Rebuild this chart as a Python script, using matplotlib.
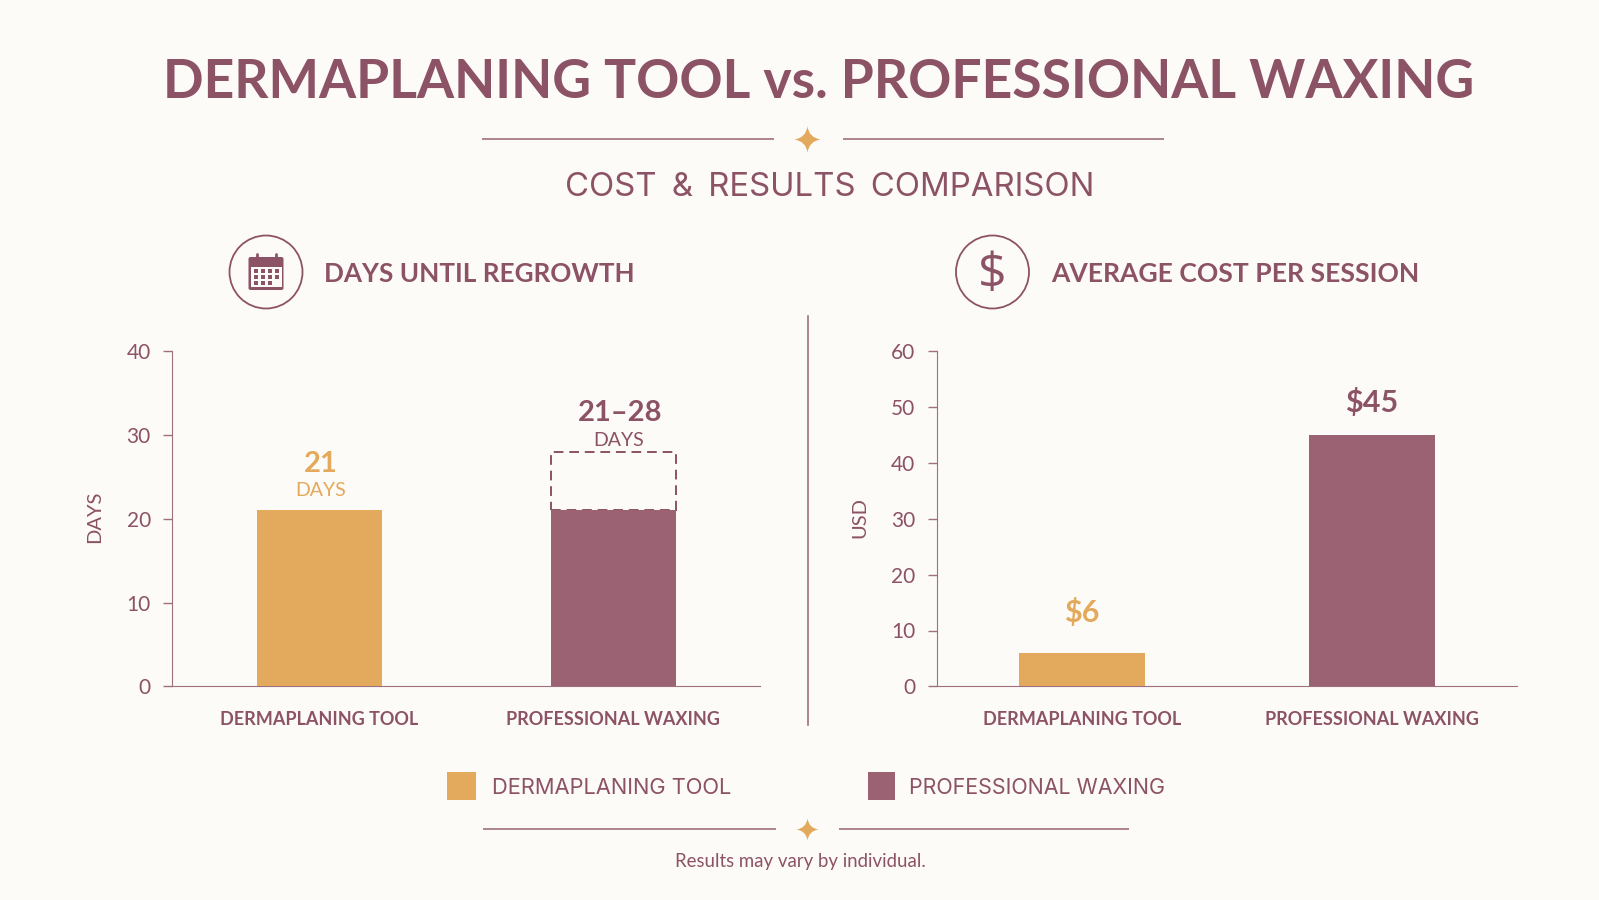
import matplotlib
matplotlib.use('Agg')
import matplotlib.pyplot as plt
from matplotlib.patches import Circle, FancyBboxPatch, Rectangle
from matplotlib.path import Path

# Data
products = ['DERMAPLANING TOOL', 'PROFESSIONAL WAXING']
days_low = [21, 21]
days_high = 28
cost_usd = [6, 45]
days_ticks = [0, 10, 20, 30, 40]
cost_ticks = [0, 10, 20, 30, 40, 50, 60]

GOLD = '#E3A95C'
PLUM = '#9A6272'
TEXT = '#8C5266'
LINE = '#A06F7F'
BG = '#FDFBF7'
W, H = 1599, 900

plt.rcParams['font.family'] = ['Lato', 'DejaVu Sans']

fig = plt.figure(figsize=(W / 100, H / 100), dpi=100, facecolor=BG)

# Overlay in pixel units for the header, icons, legend and footer
bg = fig.add_axes([0, 0, 1, 1], zorder=0)
bg.set_xlim(0, W)
bg.set_ylim(H, 0)
bg.axis('off')

STAR = Path([(0, 1), (0.12, 0.12), (1, 0), (0.12, -0.12), (0, -1), (-0.12, -0.12), (-1, 0), (-0.12, 0.12), (0, 1)],
            [Path.MOVETO, Path.CURVE3, Path.CURVE3, Path.CURVE3, Path.CURVE3, Path.CURVE3, Path.CURVE3, Path.CURVE3, Path.CURVE3])


def divider(y, x0, x1, x2, x3, size):
    bg.plot([x0, x1], [y, y], color=LINE, lw=1.2, solid_capstyle='butt')
    bg.plot([x2, x3], [y, y], color=LINE, lw=1.2, solid_capstyle='butt')
    bg.plot([807], [y], marker=STAR, ms=size, color=GOLD, mew=0)


# Title block
bg.text(819, 82, 'DERMAPLANING TOOL vs. PROFESSIONAL WAXING', ha='center', va='center',
        fontsize=38.5, fontweight='bold', color=TEXT)
divider(139, 482, 774, 843, 1164, 19)
bg.text(830, 187, 'COST\u2009 &\u2009 RESULTS\u2009 COMPARISON', ha='center', va='center',
        fontsize=23.7, color=TEXT, family=['Inter', 'DejaVu Sans'])

# Panel headings with their icons
bg.text(324, 274, 'DAYS UNTIL REGROWTH', ha='left', va='center', fontsize=18.8, fontweight='bold', color=TEXT)
bg.text(1051, 274, 'AVERAGE COST PER SESSION', ha='left', va='center', fontsize=19.1, fontweight='bold', color=TEXT)
for cx in (266, 992.5):
    bg.add_patch(Circle((cx, 272), 36.5, fill=False, ec=TEXT, lw=1.3))
bg.text(992.5, 275, '$', ha='center', va='center', fontsize=36, color=TEXT, family=['Open Sans', 'DejaVu Sans'])

# Calendar icon
bg.add_patch(FancyBboxPatch((248.5, 257), 35, 33, boxstyle='round,pad=0,rounding_size=2', fc=TEXT, ec='none'))
bg.add_patch(Rectangle((251, 267), 30.5, 20, fc=BG, ec='none'))
for px in (256.5, 276):
    bg.plot([px, px], [254, 261], color=TEXT, lw=2, solid_capstyle='round')
for row, py in enumerate((270.7, 276.7, 282.7)):
    for col, px in enumerate((255.7, 262.7, 269.7, 276.7)):
        if row < 2 or col < 3:
            bg.add_patch(Rectangle((px - 1.9, py - 1.8), 3.8, 3.6, fc=TEXT, ec='none'))

# Centre rule between the panels
bg.plot([807.5, 807.5], [316, 725], color=LINE, lw=1.2)

# Legend
bg.add_patch(Rectangle((447, 772), 29, 28, fc=GOLD, ec='none'))
bg.add_patch(Rectangle((868, 772), 27, 28, fc=PLUM, ec='none'))
bg.text(492.5, 788, products[0], ha='left', va='center', fontsize=15.75, color=TEXT, family=['Inter', 'DejaVu Sans'])
bg.text(909, 788, products[1], ha='left', va='center', fontsize=15.45, color=TEXT, family=['Inter', 'DejaVu Sans'])

# Footer
divider(829, 483, 776, 839, 1129, 16)
bg.text(800, 861, 'Results may vary by individual.', ha='center', va='center', fontsize=13.4, color=TEXT)


def panel(x0, x1, ylim, ticks, ylabel):
    top, bottom = 351, 686.4
    ax = fig.add_axes([x0 / W, 1 - bottom / H, (x1 - x0) / W, (bottom - top) / H], zorder=1)
    ax.patch.set_alpha(0)
    ax.set_xlim(-0.5, 1.5)
    ax.set_ylim(0, ylim)
    ax.spines['top'].set_visible(False)
    ax.spines['right'].set_visible(False)
    ax.spines['left'].set_color(LINE)
    ax.spines['bottom'].set_color(LINE)
    ax.set_yticks(ticks)
    ax.set_xticks([0, 1])
    ax.set_xticklabels(products, fontsize=13, fontweight='bold', color=TEXT)
    ax.tick_params(axis='x', length=0, pad=18)
    ax.tick_params(axis='y', length=6.5, width=1, color=LINE, labelcolor=TEXT, labelsize=15, pad=9)
    ax.set_ylabel(ylabel, fontsize=14.5, color=TEXT)
    return ax


# Days until regrowth
ax1 = panel(172.3, 760, 40, days_ticks, 'DAYS')
ax1.yaxis.set_label_coords(-0.117, 0.505)
ax1.bar(1, days_high - days_low[1], bottom=days_low[1], width=0.425, fill=False, edgecolor=TEXT,
        linestyle=(0, (5, 3)), linewidth=1.4, zorder=2)
ax1.bar([0, 1], days_low, width=0.425, color=[GOLD, PLUM], zorder=3)
bg.text(321, 464, str(days_low[0]), ha='center', va='center', fontsize=21, fontweight='bold', color=GOLD)
bg.text(321, 491, 'DAYS', ha='center', va='center', fontsize=14, color=GOLD)
bg.text(620, 413, f'{days_low[1]}\u2013{days_high}', ha='center', va='center', fontsize=21, fontweight='bold', color=TEXT)
bg.text(619, 440, 'DAYS', ha='center', va='center', fontsize=14, color=TEXT)

# Average cost per session
ax2 = panel(937, 1517, 60, cost_ticks, 'USD')
ax2.yaxis.set_label_coords(-0.119, 0.505)
ax2.bar([0, 1], cost_usd, width=0.437, color=[GOLD, PLUM], zorder=3)
bg.text(1082, 613, f'${cost_usd[0]}', ha='center', va='center', fontsize=22, fontweight='bold', color=GOLD)
bg.text(1372, 403, f'${cost_usd[1]}', ha='center', va='center', fontsize=22, fontweight='bold', color=TEXT)

fig.savefig('out.png', dpi=100, facecolor=BG)
